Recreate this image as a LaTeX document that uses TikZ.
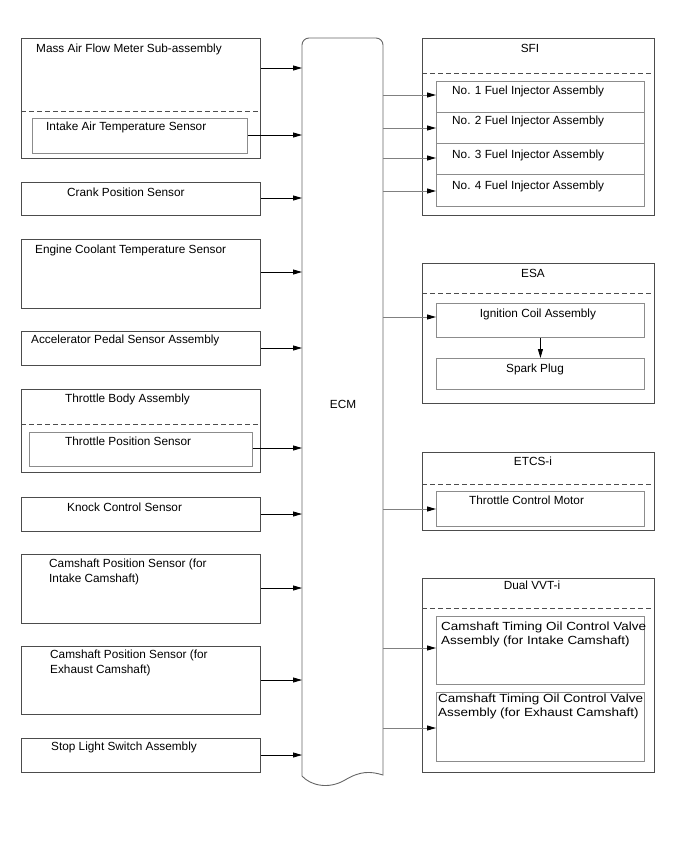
\documentclass[tikz,border=0pt]{standalone}
\usepackage{fontspec}
\setmainfont{Liberation Sans}
\newfontfamily\widefont[FakeStretch=1.14]{Liberation Sans}
\usetikzlibrary{arrows.meta}

\tikzset{
  outerbox/.style={draw=black!70, line width=0.9pt, anchor=north west, inner sep=0pt},
  innerbox/.style={draw=black!45, line width=0.9pt, anchor=north west, inner sep=0pt},
  lbl/.style={anchor=base west, inner sep=0pt, font=\fontsize{11.8}{14.5}\selectfont, align=left},
  clbl/.style={lbl, anchor=base},
  widelbl/.style={lbl, font=\widefont\fontsize{11.8}{14}\selectfont},
  sepline/.style={draw=black!70, dash pattern=on 5pt off 3pt, line width=0.9pt},
  sig/.style={line width=0.8pt, -{Triangle[length=9pt,width=5pt]}},
  drive/.style={draw=black!50, line width=0.9pt, -{Triangle[length=9pt,width=5pt,color=black]}},
}

\begin{document}
\begin{tikzpicture}[x=1pt, y=-1pt]
  \useasboundingbox (0,0) rectangle (688,852);

  % inputs
  \node[outerbox, minimum width=239, minimum height=120] (maf)   at (21,38)  {};
  \node[innerbox, minimum width=215, minimum height=35]  (iat)   at (32,118) {};
  \node[outerbox, minimum width=239, minimum height=33]  (crank) at (21,182) {};
  \node[outerbox, minimum width=239, minimum height=69]  (ect)   at (21,239) {};
  \node[outerbox, minimum width=239, minimum height=34]  (app)   at (21,331) {};
  \node[outerbox, minimum width=239, minimum height=83]  (tba)   at (21,389) {};
  \node[innerbox, minimum width=223, minimum height=34]  (tps)   at (29,432) {};
  \node[outerbox, minimum width=239, minimum height=34]  (knock) at (21,497) {};
  \node[outerbox, minimum width=239, minimum height=69]  (cmpi)  at (21,554) {};
  \node[outerbox, minimum width=239, minimum height=68]  (cmpe)  at (21,646) {};
  \node[outerbox, minimum width=239, minimum height=34]  (stop)  at (21,738) {};
  \draw[sepline] (maf.west |- 0,111) -- (maf.east |- 0,111);
  \draw[sepline] (tba.west |- 0,424) -- (tba.east |- 0,424);

  \node[lbl] (maf-t)   at (36,52)  {Mass Air Flow Meter Sub-assembly};
  \node[lbl] (iat-t)   at (46,130) {Intake Air Temperature Sensor};
  \node[lbl] (crank-t) at (67,196) {Crank Position Sensor};
  \node[lbl] (ect-t)   at (35,253) {Engine Coolant Temperature Sensor};
  \node[lbl] (app-t)   at (31,343) {Accelerator Pedal Sensor Assembly};
  \node[lbl] (tba-t)   at (65,402) {Throttle Body Assembly};
  \node[lbl] (tps-t)   at (65,445) {Throttle Position Sensor};
  \node[lbl] (knock-t) at (67,511) {Knock Control Sensor};
  % two-line labels: base is the last line
  \node[lbl] (cmpi-t)  at (49,582) {Camshaft Position Sensor (for\\Intake Camshaft)};
  \node[lbl] (cmpe-t)  at (50,673) {Camshaft Position Sensor (for\\Exhaust Camshaft)};
  \node[lbl] (stop-t)  at (51,750) {Stop Light Switch Assembly};

  % ECM
  \node[inner sep=0pt, anchor=north west, minimum width=81, minimum height=734] (ecm) at (302,38) {};
  \draw[draw=black!60, line width=0.9pt] (302,776) [rounded corners=7] -- (302,38) -- (383,38)
    [sharp corners] -- (383,775) .. controls (370,771) and (360,771) .. (345,780)
    .. controls (328,790) and (310,785) .. (302,776);
  \node[clbl] (ecm-t) at (343,408) {ECM};

  % outputs
  \node[outerbox, minimum width=232, minimum height=177] (sfi)  at (422,38)  {};
  \node[innerbox, minimum width=208, minimum height=31]  (inj1) at (436,81)  {};
  \node[innerbox, minimum width=208, minimum height=31]  (inj2) at (436,112) {};
  \node[innerbox, minimum width=208, minimum height=31]  (inj3) at (436,143) {};
  \node[innerbox, minimum width=208, minimum height=32]  (inj4) at (436,174) {};
  \node[outerbox, minimum width=232, minimum height=140] (esa)  at (422,263) {};
  \node[innerbox, minimum width=208, minimum height=34]  (ign)  at (436,303) {};
  \node[innerbox, minimum width=208, minimum height=31]  (plug) at (436,358) {};
  \node[outerbox, minimum width=232, minimum height=78]  (etcs) at (422,452) {};
  \node[innerbox, minimum width=208, minimum height=35]  (tcm)  at (436,491) {};
  \node[outerbox, minimum width=232, minimum height=194] (vvt)  at (422,578) {};
  \node[innerbox, minimum width=208, minimum height=68]  (ocvi) at (436,616) {};
  \node[innerbox, minimum width=208, minimum height=69]  (ocve) at (436,692) {};
  \draw[sepline] (sfi.west |- 0,73)   -- (sfi.east |- 0,73);
  \draw[sepline] (esa.west |- 0,293)  -- (esa.east |- 0,293);
  \draw[sepline] (etcs.west |- 0,484) -- (etcs.east |- 0,484);
  \draw[sepline] (vvt.west |- 0,608)  -- (vvt.east |- 0,608);

  \node[clbl] (sfi-t)  at (530,52)  {SFI};
  \node[lbl]  (inj1-t) at (452,94)  {No. 1 Fuel Injector Assembly};
  \node[lbl]  (inj2-t) at (452,124) {No. 2 Fuel Injector Assembly};
  \node[lbl]  (inj3-t) at (452,158) {No. 3 Fuel Injector Assembly};
  \node[lbl]  (inj4-t) at (452,189) {No. 4 Fuel Injector Assembly};
  \node[clbl] (esa-t)  at (533,277) {ESA};
  \node[clbl] (ign-t)  at (538,317) {Ignition Coil Assembly};
  \node[clbl] (plug-t) at (535,372) {Spark Plug};
  \node[clbl] (etcs-t) at (533,465) {ETCS-i};
  \node[lbl]  (tcm-t)  at (469,504) {Throttle Control Motor};
  \node[clbl] (vvt-t)  at (532,589) {Dual VVT-i};
  \node[widelbl] (ocvi-t) at (441,644) {Camshaft Timing Oil Control Valve\\Assembly (for Intake Camshaft)};
  \node[widelbl] (ocve-t) at (438,716) {Camshaft Timing Oil Control Valve\\Assembly (for Exhaust Camshaft)};

  % signals into the ECM
  \draw[sig] (maf.east |- 0,68)    -- (ecm.west |- 0,68);
  \draw[sig] (iat.east |- 0,135)   -- (ecm.west |- 0,135);
  \draw[sig] (crank.east |- 0,198) -- (ecm.west |- 0,198);
  \draw[sig] (ect.east |- 0,272)   -- (ecm.west |- 0,272);
  \draw[sig] (app.east |- 0,348)   -- (ecm.west |- 0,348);
  \draw[sig] (tps.east |- 0,448)   -- (ecm.west |- 0,448);
  \draw[sig] (knock.east |- 0,514) -- (ecm.west |- 0,514);
  \draw[sig] (cmpi.east |- 0,588)  -- (ecm.west |- 0,588);
  \draw[sig] (cmpe.east |- 0,680)  -- (ecm.west |- 0,680);
  \draw[sig] (stop.east |- 0,755)  -- (ecm.west |- 0,755);

  % ECM outputs
  \draw[drive] (ecm.east |- 0,95)  -- (inj1.west |- 0,95);
  \draw[drive] (ecm.east |- 0,128) -- (inj2.west |- 0,128);
  \draw[drive] (ecm.east |- 0,158) -- (inj3.west |- 0,158);
  \draw[drive] (ecm.east |- 0,191) -- (inj4.west |- 0,191);
  \draw[drive] (ecm.east |- 0,317) -- (ign.west |- 0,317);
  \draw[drive] (ecm.east |- 0,509) -- (tcm.west |- 0,509);
  \draw[drive] (ecm.east |- 0,648) -- (ocvi.west |- 0,648);
  \draw[drive] (ecm.east |- 0,728) -- (ocve.west |- 0,728);
  \draw[sig] (ign.south) -- (plug.north);
\end{tikzpicture}
\end{document}
